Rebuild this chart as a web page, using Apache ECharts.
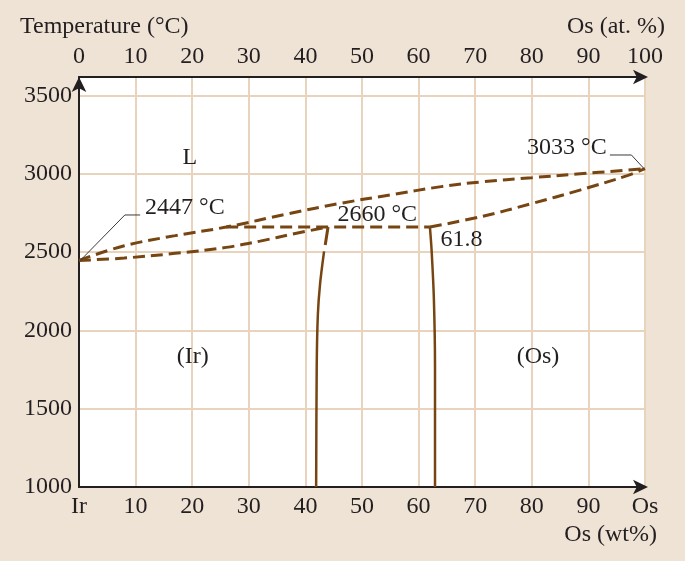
<!DOCTYPE html>
<html><head><meta charset="utf-8">
<script src="https://cdn.jsdelivr.net/npm/echarts@6/dist/echarts.min.js"></script>
<style>html,body{margin:0;padding:0;background:#efe3d6;}#c{width:685px;height:561px;}</style>
</head><body><div id="c"></div>
<script>
// ---- data ----
const xTicks = [0,10,20,30,40,50,60,70,80,90,100];
const bottomTickLabels = ['Ir','10','20','30','40','50','60','70','80','90','Os'];
const yTicks = [1000,1500,2000,2500,3000,3500];
const liquidusX = [0,8,17,26,37,46,55,64,71,80,88,100];
const liquidusY = [2447,2540,2605,2660,2745,2810,2865,2918,2948,2975,2998,3033];
const irSolidusX = [0,8,17,26,32,38,44];
const irSolidusY = [2447,2462,2492,2530,2570,2617,2660];
const osSolidusX = [62,71,80,88.5,97,100];
const osSolidusY = [2660,2726,2810,2896,2990,3033];
const tieLineX = [26,62];
const tieLineY = [2660,2660];
const irSolvusDashX = [44,43.5];
const irSolvusDashY = [2660,2545];
const irSolvusX = [43.3,42.6,42.2,42.0,41.9];
const irSolvusY = [2505,2300,2100,1770,1000];
const osSolvusX = [62,62.3,62.7,62.9,62.9];
const osSolvusY = [2660,2510,2200,1770,1000];
const labelTexts = ['L','(Ir)','(Os)','2660 °C','61.8','2447 °C','3033 °C'];
const labelX = [19.6,20.1,81.1,52.7,67.6,18.7,86.2];
const labelY = [3101,1830,1830,2737,2577,2782,3165];
const leader2447X = [10.8,8.1,0.3];
const leader2447Y = [2737,2737,2449];
const leader3033X = [93.8,97.6,99.8];
const leader3033Y = [3120,3120,3034];

const zip = (xs, ys) => xs.map((x,i)=>[x, ys[i]]);
const BROWN = '#774512';
const TXT = '#231f20';
const FONT = 'Liberation Serif';
const FS = 24;

const chart = echarts.init(document.getElementById('c'), null, {renderer:'canvas'});
const dashed = {color: BROWN, width: 3, type: [12,6]};
const solid = {color: BROWN, width: 2.5};
function lineSeries(data, style, smooth){
  return {type:'line', data, showSymbol:false, symbol:'none', smooth: smooth, lineStyle: style, silent:true, z:3};
}
chart.setOption({
  backgroundColor: '#efe3d6',
  animation: false,
  grid: {left:79, right:40, top:77, bottom:74, show:true, backgroundColor:'#ffffff', borderWidth:0},
  xAxis: [
    {type:'value', position:'bottom', min:0, max:100, interval:10,
     axisLine:{show:true, lineStyle:{color:TXT, width:2}, symbol:['none','arrow'], symbolSize:[11,15], symbolOffset:[0,3]},
     axisTick:{show:false},
     splitLine:{show:true, lineStyle:{color:'#e8d3bc', width:2}},
     axisLabel:{color:TXT, fontFamily:FONT, fontSize:FS, margin:8,
       formatter: v => { const i = xTicks.indexOf(v); return i>=0 ? bottomTickLabels[i] : ''; }}},
    {type:'value', position:'top', min:0, max:100, interval:10,
     axisLine:{show:true, lineStyle:{color:TXT, width:2}, symbol:['none','arrow'], symbolSize:[11,15], symbolOffset:[0,3]},
     axisTick:{show:false}, splitLine:{show:false},
     axisLabel:{color:TXT, fontFamily:FONT, fontSize:FS, margin:8,
       formatter: v => xTicks.indexOf(v)>=0 ? String(v) : ''}}
  ],
  yAxis: {type:'value', min:1000, max:3618, interval:500,
    axisLine:{show:true, lineStyle:{color:TXT, width:2}, symbol:['none','arrow'], symbolSize:[11,15]},
    axisTick:{show:false},
    splitLine:{show:true, lineStyle:{color:'#e8d3bc', width:2}},
    axisLabel:{color:TXT, fontFamily:FONT, fontSize:FS, margin:7,
      formatter: v => yTicks.indexOf(v)>=0 ? String(v) : ''}},
  graphic: [
    {type:'text', left:20, top:15, style:{text:'Temperature (°C)', fill:TXT, font:`${FS}px "${FONT}"`}},
    {type:'text', right:20, top:15, style:{text:'Os (at. %)', fill:TXT, font:`${FS}px "${FONT}"`}},
    {type:'text', right:28, top:523, style:{text:'Os (wt%)', fill:TXT, font:`${FS}px "${FONT}"`}}
  ],
  series: [
    lineSeries(zip(liquidusX, liquidusY), dashed, 0.4),
    lineSeries(zip(irSolidusX, irSolidusY), dashed, 0.4),
    lineSeries(zip(osSolidusX, osSolidusY), dashed, 0.4),
    lineSeries(zip(tieLineX, tieLineY), dashed, false),
    lineSeries(zip(irSolvusDashX, irSolvusDashY), {color: BROWN, width: 3}, false),
    lineSeries(zip(irSolvusX, irSolvusY), solid, 0.3),
    lineSeries(zip(osSolvusX, osSolvusY), solid, 0.3),
    {type:'lines', coordinateSystem:'cartesian2d', polyline:true, silent:true, z:4,
     symbol:['none','arrow'], symbolSize:6,
     lineStyle:{color:'#3a3a3a', width:1, opacity:1},
     data:[{coords: zip(leader2447X, leader2447Y)}, {coords: zip(leader3033X, leader3033Y)}]},
    {type:'scatter', symbolSize:0, silent:true, z:5,
     data: labelTexts.map((t,i)=>({name:t, value:[labelX[i], labelY[i]]})),
     label:{show:true, position:'inside', formatter: p => p.name, color:TXT, fontFamily:FONT, fontSize:FS,
       textBorderWidth:0, textBorderColor:'transparent', opacity:1}}
  ]
});
</script></body></html>
